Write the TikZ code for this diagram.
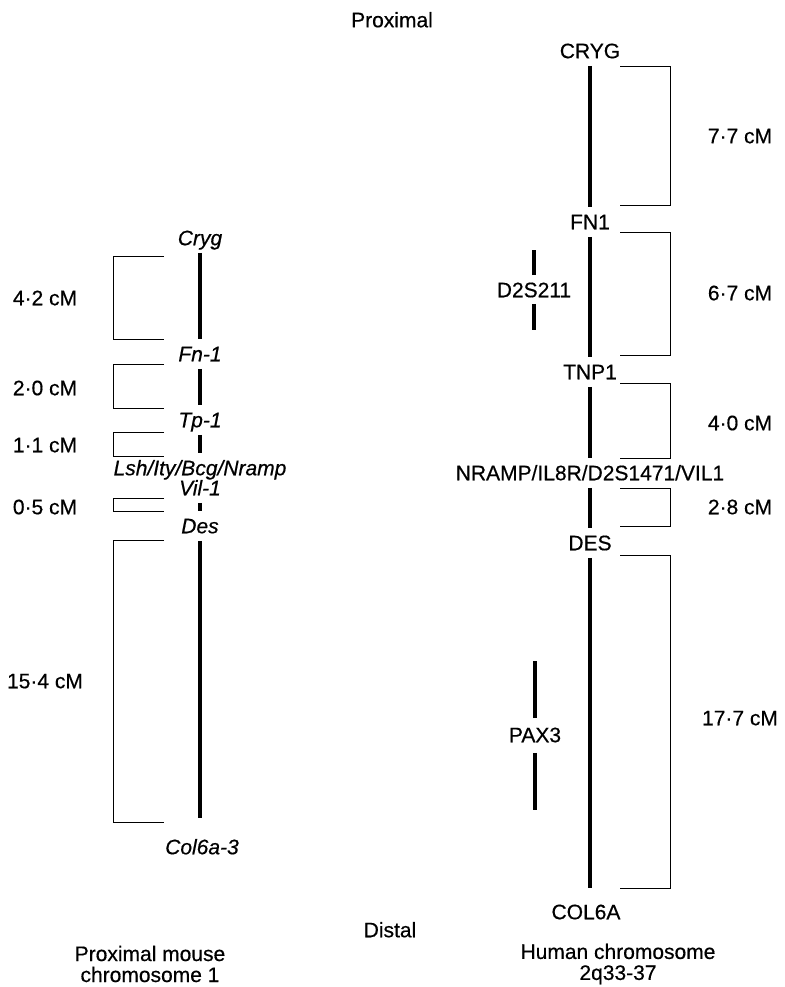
\documentclass[tikz,border=0pt]{standalone}
\usepackage{fontspec}
\setmainfont{Liberation Sans}[FakeBold=0.5]
\tikzset{
  lbl/.style={font=\fontsize{21}{22}\selectfont, inner sep=0pt, text height=15pt, text depth=4.5pt},
  gen/.style={lbl, font=\fontsize{21}{22}\selectfont\itshape},
  titel/.style={font=\fontsize{21}{21}\selectfont, inner sep=0pt, align=center},
  chrom/.style={line width=4pt, shorten <=3pt, shorten >=7pt},
  klammer/.style={line width=1pt},
  marker/.style={line width=4pt},
}
\begin{document}
\begin{tikzpicture}[x=1pt,y=-1pt]
                  \useasboundingbox (0,0) rectangle (784,987);

                  % Beschriftung oben und unten
                  \node[lbl] (prox) at (392,22) {Proximal};
                  \node[lbl] (dist) at (390,932) {Distal};
                  \node[titel] (maus) at (150,964) {Proximal mouse\\chromosome 1};
                  \node[titel] (mensch) at (618,964) {Human chromosome\\2q33-37};

                  % Maus-Chromosom
                  \node[gen] (cryg) at (200,240) {Cryg};
                  \node[gen] (fn1m) at (200,356) {Fn-1};
                  \node[gen] (tp1) at (200,422) {Tp-1};
                  \node[gen] (lsh) at (200,470) {Lsh/Ity/Bcg/Nramp};
                  \node[gen] (vil1) at (200,490) {Vil-1};
                  \node[gen] (desm) at (200,528) {Des};
                  \node[gen] (col6am) at (202,849) {Col6a-3};
                  \draw[chrom] (cryg) -- (fn1m);
                  \draw[chrom] (fn1m) -- (tp1);
                  \draw[chrom] (tp1) -- (lsh);
                  \draw[chrom] (vil1) -- (desm);
                  \draw[chrom, shorten >=21pt] (desm) -- (desm |- col6am.north);

                  % Abstaende Maus
                  \foreach \a/\b/\m/\t [count=\i] in {256/339/300/4·2 cM, 364/408/390/2·0 cM, 432/456/447/1·1 cM, 498/511/509/0·5 cM, 540/822/683/15·4 cM} {
                          \draw[klammer] (164,\a) -- (113,\a) -- (113,\b) -- (164,\b);
                          \node[lbl] (lcm\i) at (45,\m) {\t};
                      }

                  % Mensch-Chromosom
                  \node[lbl] (crygh) at (590,53) {CRYG};
                  \node[lbl] (fn1h) at (590,224) {FN1};
                  \node[lbl] (tnp1) at (590,374) {TNP1};
                  \node[lbl] (nramp) at (590,475) {NRAMP/IL8R/D2S1471/VIL1};
                  \node[lbl] (desh) at (590,545) {DES};
                  \node[lbl] (col6ah) at (586,914) {COL6A};
                  \draw[chrom] (crygh) -- (fn1h);
                  \draw[chrom] (fn1h) -- (tnp1);
                  \draw[chrom] (tnp1) -- (nramp);
                  \draw[chrom] (nramp) -- (desh);
                  \draw[chrom, shorten >=16pt] (desh) -- (desh |- col6ah.north);

                  % Marker neben dem Chromosom
                  \node[lbl] (d2s211) at (534,292) {D2S211};
                  \draw[marker] ([yshift=7pt]d2s211.north) -- ++(0,-25);
                  \draw[marker] ([yshift=-2pt]d2s211.south) -- ++(0,26);
                  \node[lbl] (pax3) at (535,737) {PAX3};
                  \draw[marker] ([yshift=9pt]pax3.north) -- ++(0,-57);
                  \draw[marker] ([yshift=-6pt]pax3.south) -- ++(0,57);

                  % Abstaende Mensch
                  \foreach \a/\b/\m/\t [count=\i] in {67/205/138/7·7 cM, 232/355/295/6·7 cM, 383/458/425/4·0 cM, 488/526/509/2·8 cM, 555/888/720/17·7 cM} {
                          \draw[klammer] (620,\a) -- (670,\a) -- (670,\b) -- (620,\b);
                          \node[lbl] (rcm\i) at (740,\m) {\t};
                      }
              \end{tikzpicture}
\end{document}
